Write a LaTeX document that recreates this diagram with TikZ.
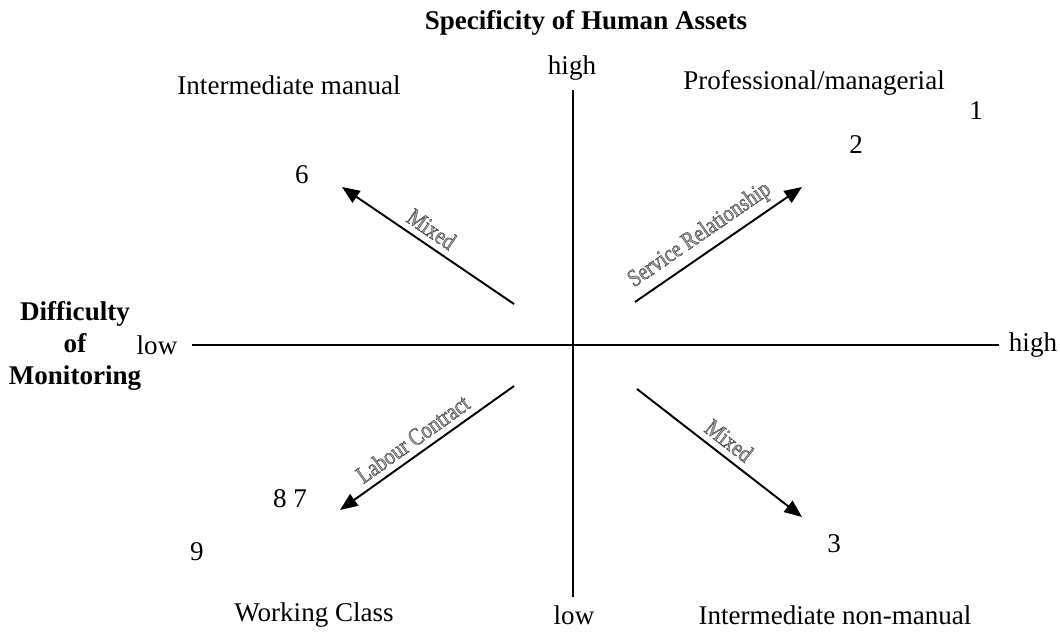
\documentclass[tikz,border=0pt]{standalone}
\usepackage{fontspec}
\setmainfont{Liberation Serif}
\newfontfamily\narrowserif[FakeStretch=0.82]{Liberation Serif}
\usetikzlibrary{arrows.meta}

% outlined text for the arrow labels
\newcommand{\outlined}[1]{\special{pdf:literal direct 0.25 G 2 Tr 0.22 w}#1\special{pdf:literal direct 0 Tr}}

\begin{document}
\begin{tikzpicture}[x=0.02cm, y=-0.02cm,
	txt/.style={font=\fontsize{15.4}{18}\selectfont, inner sep=0pt},
	head/.style={txt, font=\fontsize{15.4}{18}\selectfont\bfseries, align=center},
	axis/.style={line width=1pt},
	move/.style={line width=1.1pt, -{Triangle[length=10pt, width=8pt]}},
	movelbl/.style={sloped, above, font=\narrowserif\fontsize{14}{16}\selectfont, text=black!35, inner sep=3.5pt}]
	\useasboundingbox (0,0) rectangle (1060,632);
	
	% axes
	\coordinate (ytop) at (573,90);
	\coordinate (ybot) at (573,597);
	\coordinate (xleft) at (192,345);
	\coordinate (xright) at (999,345);
	\draw[axis] (ytop) -- (ybot);
	\draw[axis] (xleft) -- (xright);
	
	\node[head] (spec) at (586,23) {Specificity of Human Assets};
	\node[head] (diff) at (75,346) {Difficulty\\of\\Monitoring};
	\node[txt] (yhigh) at (572,68) {high};
	\node[txt] (ylow) at (574,615) {low};
	\node[txt] (xlow) at (157,345) {low};
	\node[txt] (xhigh) at (1033,345) {high};
	
	% classes in the quadrants
	\node[txt] (intman) at (289,85) {Intermediate manual};
	\node[txt] (prof) at (814,83) {Professional/managerial};
	\node[txt] (work) at (314,615) {Working Class};
	\node[txt] (intnon) at (835,615) {Intermediate non-manual};
	\node[txt] (c1) at (976,111) {1};
	\node[txt] (c2) at (856,145) {2};
	\node[txt] (c6) at (302,175) {6};
	\node[txt] (c87) at (290,499) {8 7};
	\node[txt] (c9) at (197,552) {9};
	\node[txt] (c3) at (834,544) {3};
	
	% contract arrows
	\coordinate (nwa) at (514,304); \coordinate (nwb) at (342,187);
	\coordinate (nea) at (635,302); \coordinate (neb) at (802,187);
	\coordinate (swa) at (514,386); \coordinate (swb) at (340,510);
	\coordinate (sea) at (637,389); \coordinate (seb) at (802,517);
	\draw[move] (nwa) -- node[movelbl, pos=0.53] {\outlined{Mixed}} (nwb);
	\draw[move] (nea) -- node[movelbl, pos=0.45] {\outlined{Service Relationship}} (neb);
	\draw[move] (swa) -- node[movelbl, pos=0.53] {\outlined{Labour Contract}} (swb);
	\draw[move] (sea) -- node[movelbl, pos=0.5] {\outlined{Mixed}} (seb);
	
\end{tikzpicture}
\end{document}
